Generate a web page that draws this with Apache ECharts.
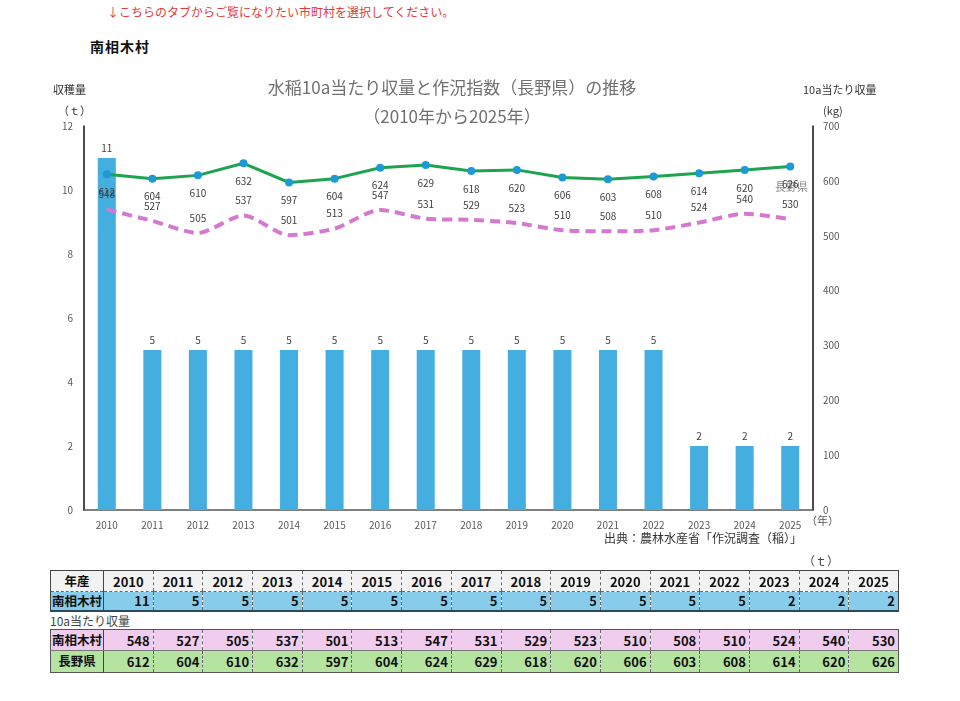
<!DOCTYPE html>
<html lang="ja">
<head>
  <meta charset="UTF-8" />
  <title>南相木村 水稲収量</title>
  <script src="https://cdn.jsdelivr.net/npm/echarts@6/dist/echarts.min.js"></script>
  <style>
    body { margin: 0; background: #fff; font-family: "Noto Sans CJK JP", sans-serif; }
    #page { position: relative; width: 960px; height: 701px; overflow: hidden; }
    #note { position: absolute; left: 107px; top: 3px; font-size: 12px; color: #e23b3b; }
    #town { position: absolute; left: 90px; top: 36px; font-size: 14px; font-weight: bold; color: #111; letter-spacing: 1px; }
    #chart { position: absolute; left: 0; top: 0; width: 960px; height: 560px; }
    .tbl { position: absolute; left: 50px; width: 849px; table-layout: fixed; border-collapse: collapse; font-weight: bold; font-size: 13px; color: #111; white-space: nowrap; }
    .tbl td { padding: 0 3px 0 0; text-align: right; border-left: 1px dashed #666; line-height: 1; overflow: hidden; }
    .tbl td.h { text-align: center; border-left: none; padding: 0; border-right: 1px solid #444; font-size: 12.5px; }
    .tbl td.c { text-align: center; padding: 0; }
    #t1 { top: 570px; border: 1px solid #444; border-bottom: 2px solid #2a4a5a; }
    #t1 tr.hd { background: #f2f2f2; height: 21px; }
    #t1 tr.hd td { border-bottom: 1px dashed #666; }
    #t1 tr.bl { background: #87ccea; height: 19px; }
    #t2 { top: 629px; border: 1px solid #555; }
    #t2 tr.pk { background: #f0cdef; height: 21px; }
    #t2 tr.gr { background: #b5e3a0; height: 22px; }
    #t2 tr.pk td { border-bottom: 1px solid #777; }
    #lbl10a { position: absolute; left: 50px; top: 612px; font-size: 12px; color: #444; }
    #unit { position: absolute; left: 803px; top: 552px; font-size: 12px; color: #444; }
  </style>
</head>
<body>
<div id="page">
  <div id="note">↓こちらのタブからご覧になりたい市町村を選択してください。</div>
  <div id="town">南相木村</div>
  <div id="chart"></div>
  <div id="unit">（ｔ）</div>
  <table class="tbl" id="t1"></table>
  <div id="lbl10a">10a当たり収量</div>
  <table class="tbl" id="t2"></table>
</div>
<script>
  var years = ["2010","2011","2012","2013","2014","2015","2016","2017","2018","2019","2020","2021","2022","2023","2024","2025"];
  // 収穫量 (t)
  var harvest = [11, 5, 5, 5, 5, 5, 5, 5, 5, 5, 5, 5, 5, 2, 2, 2];
  // 10a当たり収量 (kg)
  var yieldTown = [548, 527, 505, 537, 501, 513, 547, 531, 529, 523, 510, 508, 510, 524, 540, 530];
  var yieldPref = [612, 604, 610, 632, 597, 604, 624, 629, 618, 620, 606, 603, 608, 614, 620, 626];

  function $_(id) {
    return document.getElementById(id);
  }

  function row(cls, head, vals) {
    var html = '<tr class="' + cls + '"><td class="h" style="width:52px">' + head + '</td>';
    for (var i = 0; i < vals.length; i++) {
      html += '<td' + (cls === "hd" ? ' class="c"' : '') + '>' + vals[i] + '</td>';
    }
    return html + '</tr>';
  }
  $_("t1").innerHTML = row("hd", "年産", years) + row("bl", "南相木村", harvest);
  $_("t2").innerHTML = row("pk", "南相木村", yieldTown) + row("gr", "長野県", yieldPref);

  var font = '"Noto Sans CJK JP", sans-serif';
  var chart = echarts.init($_("chart"));
  chart.setOption({
    animation: false,
    textStyle: { fontFamily: font },
    title: {
      text: "水稲10a当たり収量と作況指数（長野県）の推移\n（2010年から2025年）",
      left: 447,
      top: 68,
      textAlign: "center",
      textStyle: { fontSize: 17, fontWeight: "normal", color: "#707070", lineHeight: 29, fontFamily: font }
    },
    grid: { left: 84, right: 147, top: 126, bottom: 50 },
    xAxis: {
      type: "category",
      data: years,
      axisLine: { lineStyle: { color: "#555", width: 1.5 } },
      axisTick: { show: false },
      axisLabel: { color: "#595959", fontSize: 10, margin: 10 }
    },
    yAxis: [
      {
        type: "value", min: 0, max: 12, interval: 2,
        axisLine: { show: true, lineStyle: { color: "#111", width: 1.5 } },
        axisTick: { show: false },
        splitLine: { show: false },
        axisLabel: { color: "#595959", fontSize: 10, margin: 11 }
      },
      {
        type: "value", min: 0, max: 700, interval: 100,
        axisLine: { show: true, lineStyle: { color: "#111", width: 1.5 } },
        axisTick: { show: false },
        splitLine: { show: false },
        axisLabel: { color: "#595959", fontSize: 10, margin: 10 }
      }
    ],
    series: [
      {
        name: "南相木村収穫量",
        type: "bar",
        data: harvest,
        barWidth: 18,
        itemStyle: { color: "#45aee0" },
        label: { show: true, position: "top", distance: 5, color: "#404040", fontSize: 10 },
        z: 1
      },
      {
        name: "南相木村",
        type: "line",
        yAxisIndex: 1,
        data: yieldTown,
        smooth: 0.25,
        symbol: "circle",
        symbolSize: 2,
        showAllSymbol: true,
        itemStyle: { color: "rgba(0,0,0,0)" },
        lineStyle: { color: "#d578cf", width: 4, type: [10, 6] },
        label: { show: true, position: "top", distance: 9, color: "#404040", fontSize: 10 },
        labelLayout: { hideOverlap: false },
        z: 3
      },
      {
        name: "長野県",
        type: "line",
        yAxisIndex: 1,
        data: yieldPref,
        symbol: "circle",
        symbolSize: 8,
        lineStyle: { color: "#1ea34f", width: 3 },
        itemStyle: { color: "#1b9ad6", borderWidth: 0 },
        label: { show: true, position: "bottom", distance: 9, color: "#404040", fontSize: 10 },
        z: 4
      }
    ],
    graphic: [
      { type: "text", left: 53, top: 84, style: { text: "収穫量", fill: "#333", font: "11px " + font } },
      { type: "text", left: 58, top: 105, style: { text: "（ｔ）", fill: "#333", font: "11px " + font } },
      { type: "text", left: 803, top: 84, style: { text: "10a当たり収量", fill: "#333", font: "11px " + font } },
      { type: "text", left: 823, top: 105, style: { text: "(kg)", fill: "#333", font: "11px " + font } },
      { type: "text", left: 806, top: 515, style: { text: "（年）", fill: "#595959", font: "11px " + font } },
      { type: "text", left: 604, top: 532, style: { text: "出典：農林水産省「作況調査（稲）」", fill: "#333", font: "12px " + font } },
      { type: "text", left: 775, top: 181, style: { text: "長野県", fill: "#8a8a8a", font: "11px " + font } }
    ]
  });
</script>
</body>
</html>
